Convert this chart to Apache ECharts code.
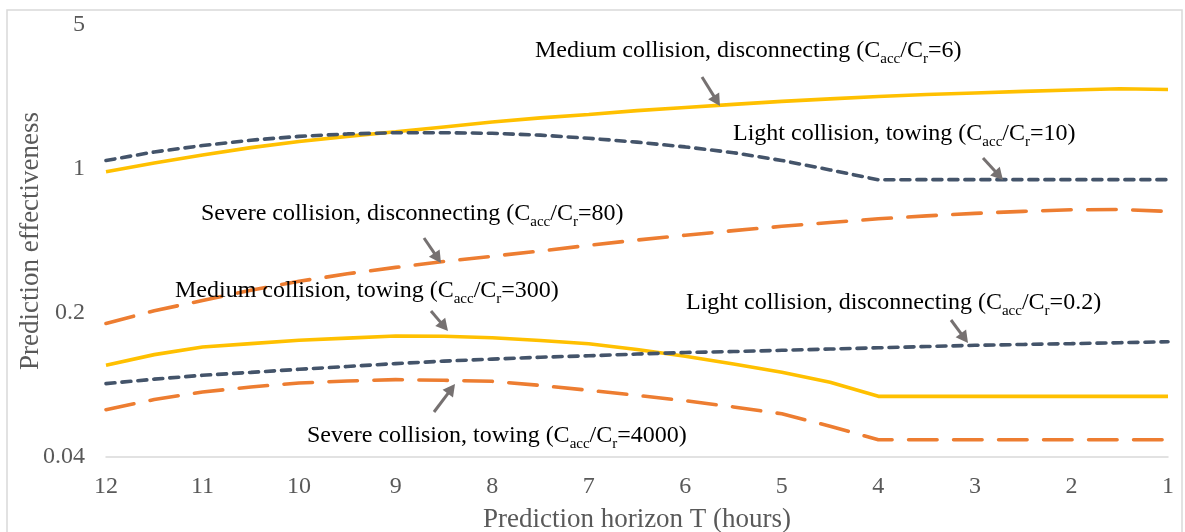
<!DOCTYPE html>
<html><head><meta charset="utf-8">
<script src="https://cdn.jsdelivr.net/npm/echarts@6/dist/echarts.min.js"></script>
<style>html,body{margin:0;padding:0;background:#fff}#c{width:1185px;height:532px}</style>
</head><body><div id="c"></div>
<script>
// ---- data ----
const hours = [12,11.5,11,10.5,10,9.5,9,8.5,8,7.5,7,6.5,6,5.5,5,4.5,4,3.5,3,2.5,2,1.5,1];
const mediumDisconnecting = [0.969,1.069,1.17,1.27,1.36,1.44,1.515,1.60,1.69,1.77,1.84,1.92,1.99,2.06,2.13,2.19,2.25,2.30,2.34,2.38,2.42,2.45,2.43];
const lightTowing        = [1.10,1.21,1.30,1.38,1.44,1.48,1.50,1.50,1.49,1.46,1.41,1.35,1.28,1.20,1.10,0.99,0.886,0.888,0.888,0.888,0.888,0.888,0.888];
const severeDisconnecting= [0.178,0.205,0.23,0.258,0.285,0.31,0.333,0.356,0.377,0.40,0.426,0.452,0.477,0.502,0.527,0.55,0.573,0.592,0.609,0.623,0.634,0.636,0.623];
const mediumTowing       = [0.1115,0.1256,0.1368,0.142,0.1474,0.151,0.1547,0.1543,0.1516,0.147,0.1418,0.133,0.1233,0.113,0.1031,0.0922,0.0788,0.0788,0.0788,0.0788,0.0788,0.0788,0.0788];
const lightDisconnecting = [0.0908,0.0955,0.0997,0.103,0.1066,0.110,0.1136,0.1168,0.1195,0.122,0.124,0.1264,0.1286,0.130,0.1318,0.1337,0.1356,0.1375,0.1394,0.1407,0.142,0.1435,0.145];
const severeTowing       = [0.0679,0.076,0.0827,0.0875,0.0915,0.0935,0.095,0.0943,0.0932,0.089,0.0843,0.0797,0.075,0.070,0.0648,0.0564,0.0485,0.0485,0.0485,0.0485,0.0485,0.0485,0.0485];
const yTickLabels = ['0.04','0.2','1','5'];
const xTitle = 'Prediction horizon T (hours)';
const yTitle = 'Prediction effectiveness';
const caseNames = ['Medium collision, disconnecting','Light collision, towing','Severe collision, disconnecting','Medium collision, towing','Light collision, disconnecting','Severe collision, towing'];
const costRatios = ['6','10','80','300','0.2','4000'];

// ---- styles ----
const FONT = "'Liberation Serif','Times New Roman',serif";
const YELLOW = '#FFC000', DARK = '#44546A', ORANGE = '#ED7D31';
const shortDash = {type:[9,7], cap:'round'};
const longDash = {type:[28.5,16.5], cap:'round'};
const styles = [
  {color:YELLOW},
  Object.assign({color:DARK}, shortDash),
  Object.assign({color:ORANGE}, longDash),
  {color:YELLOW},
  Object.assign({color:DARK}, shortDash),
  Object.assign({color:ORANGE}, longDash)
];
const valueSets = [mediumDisconnecting, lightTowing, severeDisconnecting, mediumTowing, lightDisconnecting, severeTowing];

const series = valueSets.map((vals, i) => ({
  name: caseNames[i] + ' (' + costRatios[i] + ')',
  type: 'line',
  data: hours.map((h, j) => [h, vals[j]]),
  symbol: 'none',
  smooth: false,
  lineStyle: Object.assign({width: 3.6}, styles[i]),
  z: 2 + i
}));

// annotation placement (left x, centre y) and arrows (tail -> head)
const annPos = [[535,51],[733,134],[201,214],[175,291],[686,303],[307,436]];
const arrows = [[702,77,720,106],[983,158,1003,180],[424,238,441,263],[431,311,448,331],[951,320,968,343],[434,412,455,384]];

const graphics = [];
graphics.push({type:'rect', shape:{x:7,y:10,width:1175,height:540}, style:{fill:'none', stroke:'#D9D9D9', lineWidth:1.5}, silent:true});
caseNames.forEach((n, i) => {
  graphics.push({
    type:'text', x: annPos[i][0], y: annPos[i][1], silent:true, z: 50,
    style:{
      text: '{n|' + n + ' (C}{s|acc}{n|/C}{s|r}{n|=' + costRatios[i] + ')}',
      align:'left', verticalAlign:'middle',
      rich:{
        n:{fontSize:24, fontFamily:FONT, fill:'#000', color:'#000'},
        s:{fontSize:15, fontFamily:FONT, fill:'#000', color:'#000', padding:[16,0,0,0]}
      }
    }
  });
});
arrows.forEach(a => {
  const [x1,y1,x2,y2] = a;
  const dx = x2-x1, dy = y2-y1, L = Math.hypot(dx,dy);
  const ux = dx/L, uy = dy/L, px = -uy, py = ux;
  const hl = 12, hw = 6.5;
  const bx = x2 - ux*hl, by = y2 - uy*hl;
  graphics.push({type:'line', silent:true, z:50, shape:{x1:x1,y1:y1,x2:bx+ux*1,y2:by+uy*1}, style:{stroke:'#767171', lineWidth:3}});
  graphics.push({type:'polygon', silent:true, z:50, shape:{points:[[x2,y2],[bx+px*hw,by+py*hw],[bx-px*hw,by-py*hw]]}, style:{fill:'#767171'}});
});

const chart = echarts.init(document.getElementById('c'), null, {renderer:'canvas'});
chart.setOption({
  animation:false,
  backgroundColor:'#fff',
  grid:{left:106, right:17, top:25, bottom:75, containLabel:false, outerBoundsMode:'none'},
  xAxis:{
    type:'value', inverse:true, min:1, max:12, interval:1,
    name:xTitle, nameLocation:'middle', nameGap:49, nameMoveOverlap:false,
    nameTextStyle:{fontFamily:FONT, fontSize:27, color:'#595959'},
    axisLine:{show:true, onZero:false, lineStyle:{color:'#D9D9D9', width:1.5}},
    axisTick:{show:false},
    splitLine:{show:false},
    axisLabel:{fontFamily:FONT, fontSize:24, color:'#595959', margin:18}
  },
  yAxis:{
    type:'log', logBase:5, min:0.04, max:5, interval:1, splitNumber:3,
    name:yTitle, nameLocation:'middle', nameGap:62, nameRotate:90, nameMoveOverlap:false,
    nameTextStyle:{fontFamily:FONT, fontSize:27, color:'#595959'},
    axisLine:{show:false}, axisTick:{show:false}, splitLine:{show:false},
    axisLabel:{fontFamily:FONT, fontSize:24, color:'#595959', margin:21,
      formatter: v => { const m = yTickLabels.find(t => Math.abs(parseFloat(t)-v) < 1e-6*Math.max(1,v)); return m !== undefined ? m : ''; }}
  },
  series: series,
  graphic: graphics
});
</script></body></html>
